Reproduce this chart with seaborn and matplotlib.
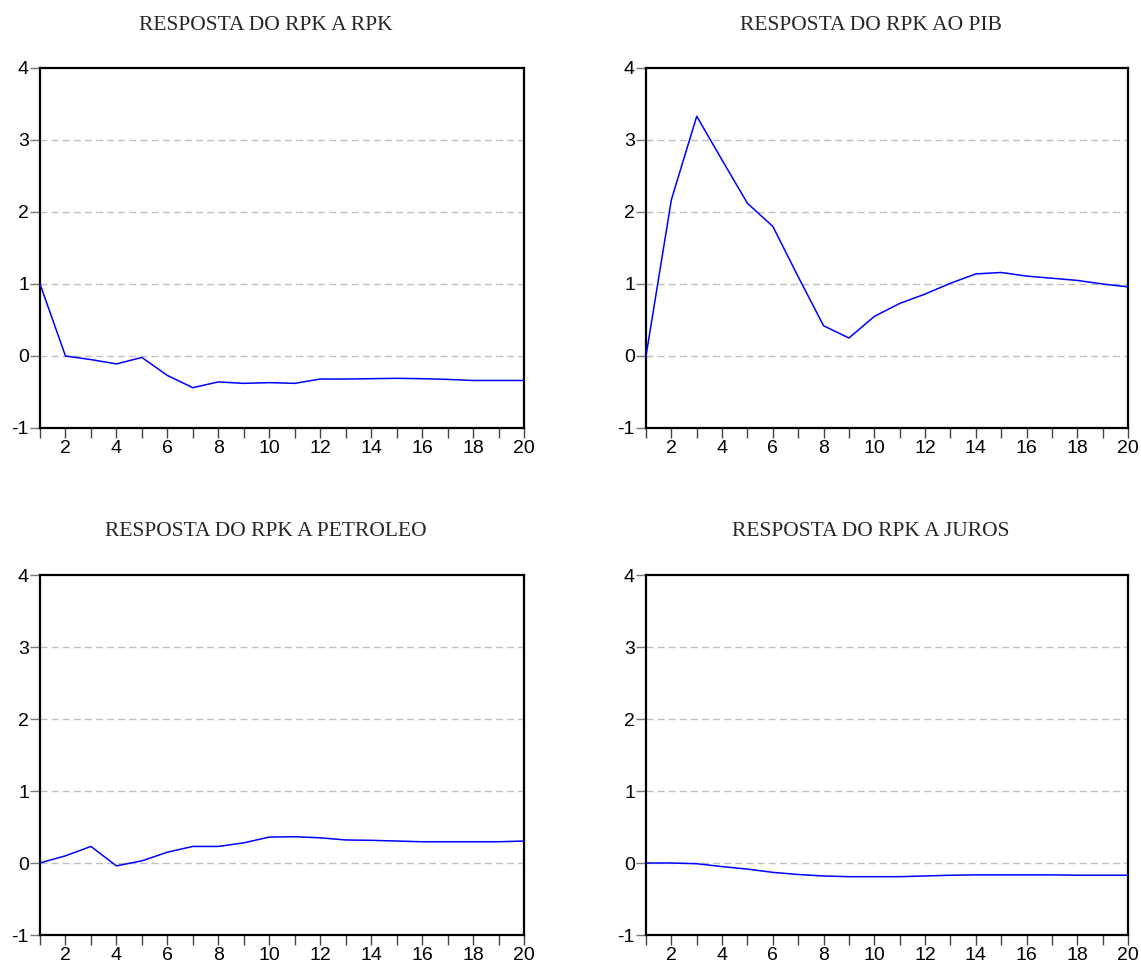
import numpy as np
import pandas as pd
import seaborn as sns
import matplotlib
matplotlib.use("Agg")
import matplotlib.pyplot as plt

periods = list(range(1, 21))

titles = ["RESPOSTA DO RPK A RPK", "RESPOSTA DO RPK AO PIB",
          "RESPOSTA DO RPK A PETROLEO", "RESPOSTA DO RPK A JUROS"]

resp_rpk = [1.00, 0.00, -0.05, -0.11, -0.02, -0.27, -0.44, -0.36, -0.38, -0.37,
            -0.38, -0.32, -0.32, -0.315, -0.31, -0.315, -0.325, -0.34, -0.34, -0.34]
resp_pib = [0.00, 2.17, 3.33, 2.72, 2.12, 1.80, 1.10, 0.42, 0.25, 0.55,
            0.73, 0.86, 1.01, 1.14, 1.16, 1.11, 1.08, 1.05, 1.00, 0.96]
resp_petroleo = [0.00, 0.10, 0.23, -0.04, 0.03, 0.15, 0.23, 0.23, 0.28, 0.36,
                 0.365, 0.35, 0.32, 0.315, 0.305, 0.295, 0.295, 0.295, 0.295, 0.305]
resp_juros = [0.00, 0.00, -0.01, -0.05, -0.085, -0.13, -0.16, -0.18, -0.19, -0.19,
              -0.19, -0.18, -0.17, -0.165, -0.165, -0.165, -0.165, -0.17, -0.17, -0.17]

series = [resp_rpk, resp_pib, resp_petroleo, resp_juros]

sns.set_theme(style="white")
plt.rcParams['font.family'] = ['Liberation Sans', 'DejaVu Sans']

W, H = 1141, 967
fig = plt.figure(figsize=(W / 100, H / 100), dpi=100)
fig.patch.set_facecolor("white")

# axes boxes in pixel coords: (left, top, right, bottom)
boxes = [(40, 68, 524, 428), (646, 68, 1128, 428),
         (40, 575, 524, 935), (646, 575, 1128, 935)]

for title, vals, (l, t, r, b) in zip(titles, series, boxes):
    ax = fig.add_axes([l / W, 1 - b / H, (r - l) / W, (b - t) / H])
    df = pd.DataFrame({"period": periods, "value": vals})
    for yv in [0, 1, 2, 3]:
        ax.axhline(yv, color="#c0c0c0", lw=1.0, ls=(0, (5, 3)), zorder=1)
    sns.lineplot(data=df, x="period", y="value", ax=ax, color="#0000ff",
                 lw=1.1, zorder=3)
    ax.set_xlim(1, 20)
    ax.set_ylim(-1, 4)
    ax.set_xlabel("")
    ax.set_ylabel("")
    ax.set_xticks(periods)
    ax.set_xticklabels([str(p) if p % 2 == 0 else "" for p in periods])
    ax.set_yticks([-1, 0, 1, 2, 3, 4])
    ax.set_yticklabels(["-1", "0", "1", "2", "3", "4"])
    ax.tick_params(axis="x", direction="out", length=7, width=1.0, color="#444444",
                   pad=1.5, labelsize=14, labelcolor="black", bottom=True)
    ax.tick_params(axis="y", direction="out", length=7, width=1.0, color="#777777",
                   pad=1, labelsize=14, labelcolor="black", left=True)
    for s in ax.spines.values():
        s.set_visible(True)
        s.set_color("black")
        s.set_linewidth(1.6)
    ax.grid(False)
    cx = (l + r) / 2 - 16
    fig.text(cx / W, 1 - (t - 43) / H, title, ha="center", va="center",
             fontsize=15.5, family=["Liberation Serif", "DejaVu Serif"])

fig.savefig("out.png", dpi=100, facecolor="white")
